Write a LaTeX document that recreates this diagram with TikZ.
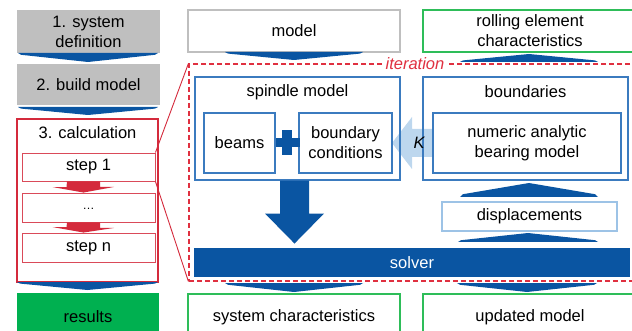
\documentclass[tikz,border=0pt]{standalone}
\usepackage{fontspec}
\setmainfont{Liberation Sans}
\usetikzlibrary{calc}
\definecolor{darkBlue}{HTML}{0A55A2}
\definecolor{boxBlue}{HTML}{3B7BBF}
\definecolor{kBlue}{HTML}{BDD7EE}
\definecolor{dispBlue}{HTML}{9DC3E6}
\definecolor{calcRed}{HTML}{D42A3C}
\definecolor{iterRed}{HTML}{E03040}
\definecolor{resGreen}{HTML}{00B050}
\definecolor{boxGreen}{HTML}{2EBD59}
\definecolor{sysGray}{HTML}{BFBFBF}

\begin{document}
\begin{tikzpicture}[x=1pt, y=-1pt, font=\fontsize{16.5}{20}\selectfont,
    box/.style={align=center, inner sep=0pt, line width=1.1pt},
    graybox/.style={box, fill=sysGray},
    redbox/.style={box, draw=calcRed},
    stepbox/.style={box, draw=calcRed!85, line width=0.9pt},
    bluebox/.style={box, draw=boxBlue},
    greenbox/.style={box, draw=boxGreen},
    chevron/.style={fill=darkBlue}]
    \useasboundingbox (0,0) rectangle (632,331);
    \clip (0,0) rectangle (632,331);

    % left column
    \node[graybox, minimum width=143, minimum height=43] (sysdef) at (88.5,31.5) {1. system\\definition};
    \node[graybox, minimum width=143, minimum height=41] (build) at (88.5,84.5) {2. build model};
    \node[redbox, minimum width=141, minimum height=163] (calc) at (87.5,200.5) {};
    \node (calctitle) at (87.5,133) {3. calculation};
    \node[stepbox, minimum width=133, minimum height=28] (step1) at (88.5,167) {step 1};
    \node[stepbox, minimum width=133, minimum height=29] (dots) at (88.5,207.5) {\raisebox{-4pt}{\fontsize{12}{12}\selectfont …}};
    \node[stepbox, minimum width=133, minimum height=29] (stepn) at (88.5,247.5) {step n};
    \node[box, fill=resGreen, minimum width=142, minimum height=48] (results) at (88,317) {results};
    \foreach \a/\b in {step1/dots, dots/stepn}
        \fill[calcRed] ($(\a.south)+(-21.5,0)$) -- ++(33,0) -- ++(0,5.5) -- ++(14,0)
            -- ($(\b.north)+(-5,0)$) -- ++(-31,-5.5) -- ++(14,0) -- cycle;

    % top row
    \node[box, draw=sysGray, minimum width=212, minimum height=42] (model) at (294,31) {model};
    \node[greenbox, minimum width=214, minimum height=42] (rolling) at (530,31) {rolling element\\characteristics};

    % iteration loop
    \node[draw=iterRed, dashed, dash pattern=on 5pt off 3pt, line width=1.1pt,
        minimum width=456, minimum height=217] (iter) at (417,172.5) {};
    \node[fill=white, text=iterRed, inner sep=2pt, font=\fontsize{16.5}{20}\selectfont\itshape] (iterlabel) at (415,64) {iteration};
    \draw[calcRed, line width=0.9pt] (step1.north east) -- (iter.north west);
    \draw[calcRed, line width=0.9pt] (step1.south east) -- (iter.south west);

    % stiffness arrow, behind the boxes
    \coordinate (ktip) at (392,143);
    \coordinate (kend) at (433,143);
    \fill[kBlue] (ktip) -- ++(20,-26) -- ++(0,12) -- ($(kend)+(0,-14)$)
        -- ($(kend)+(0,14)$) -- ++(-21,0) -- ++(0,12) -- cycle;

    \node[bluebox, draw, minimum width=205, minimum height=103] (spindle) at (297.5,128.5) {};
    \node (spindletitle) at (297.5,92) {spindle model};
    \node[bluebox, draw, minimum width=71, minimum height=60] (beams) at (239.5,143) {beams};
    \node[bluebox, draw, minimum width=93, minimum height=60] (bc) at (345.5,143) {boundary\\conditions};
    \node[bluebox, draw, minimum width=205, minimum height=103] (boundaries) at (525.5,128.5) {};
    \node (boundtitle) at (525.5,92) {boundaries};
    \node[bluebox, draw, minimum width=188, minimum height=60] (nabm) at (527,143) {numeric analytic\\bearing model};
    \node[box, draw=dispBlue, minimum width=175, minimum height=29] (disp) at (529.5,216.5) {displacements};
    \node[box, fill=darkBlue, text=white, minimum width=436, minimum height=29] (solver) at (412,262.5) {solver};
    \node[font=\fontsize{16.5}{20}\selectfont\itshape] (klabel) at (419,143) {K};

    % plus between beams and boundary conditions
    \fill[darkBlue] (beams.east) ++(0,-4.5) rectangle ++(24,9);
    \fill[darkBlue] ($(beams.east)!0.5!(bc.west)$) ++(-5,-12.5) rectangle ++(10,25);

    % spindle model into solver
    \fill[darkBlue] ($(spindle.south)+(-17.5,0)$) -- ++(29,0) -- ++(0,33) -- ++(15,0)
        -- ++(-29.5,30) -- ++(-29.5,-30) -- ++(15,0) -- cycle;

    % bottom row
    \node[greenbox, draw, minimum width=212, minimum height=46] (syschar) at (294,317) {system characteristics};
    \node[greenbox, draw, minimum width=214, minimum height=46] (updated) at (530,317) {updated model};

    % flat chevrons: centre / base / tip / half width
    \foreach \cx/\yb/\yt/\hw in {88/53/62/70, 88/107/115/70, 87.5/282/290/70.5,
            294/52/60/69, 529/62/54/69, 529/197/183/69, 528/242/233/70,
            294/283/292/69, 527/283/292/70}
        \fill[chevron] ({\cx-\hw},\yb) -- ({\cx+\hw},\yb) -- ({\cx+\hw-3},{\yb+0.2*(\yt-\yb)})
            -- (\cx,\yt) -- ({\cx-\hw+3},{\yb+0.2*(\yt-\yb)}) -- cycle;
\end{tikzpicture}
\end{document}
